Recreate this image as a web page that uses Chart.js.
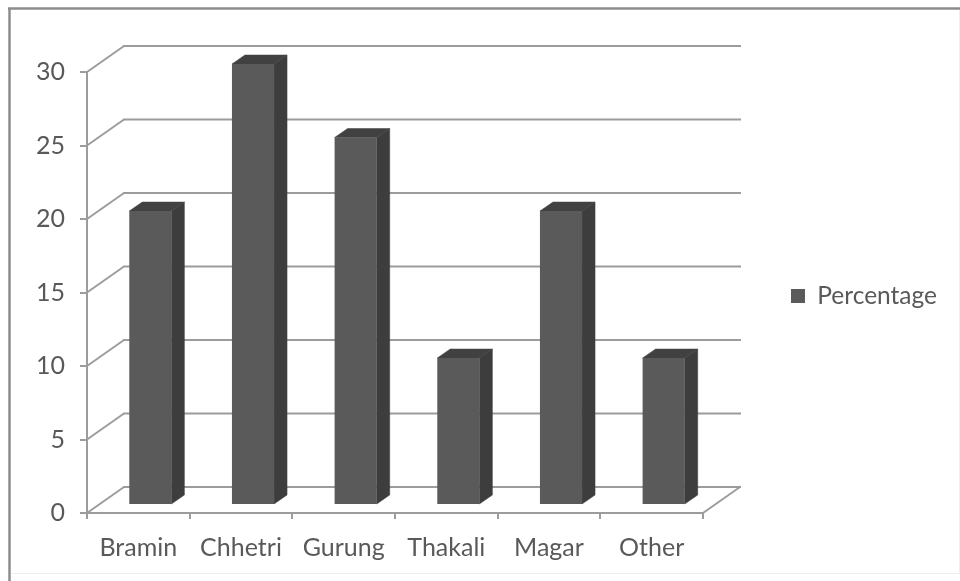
<!DOCTYPE html>
<html>
<head>
<meta charset="utf-8">
<style>
  html, body { margin: 0; padding: 0; background: #ffffff; }
  #wrap { position: absolute; left: 0; top: 0; width: 960px; height: 581px; }
</style>
<script src="https://cdn.jsdelivr.net/npm/chart.js@4"></script>
</head>
<body>
<div id="wrap"><canvas id="chart" width="960" height="581"></canvas></div>
<script>
const categories = ['Bramin', 'Chhetri', 'Gurung', 'Thakali', 'Magar', 'Other'];
const percentages = [20, 30, 25, 10, 20, 10];
const seriesName = 'Percentage';

const FRONT = '#5a5a5a';
const SIDE = '#3d3d3d';
const TOP_FACE = '#414141';
const AXIS = '#9c9c9c';
const TEXT = '#595959';
const FONT = 'Lato, "Open Sans", sans-serif';

// Perspective offsets of the pseudo-3D box and the columns inside it.
const wall = { dx: 37, dy: -26 };
const barShift = { dx: 12, dy: -8 };
const barDepth = { dx: 13, dy: -9 };

function line(ctx, x1, y1, x2, y2) {
  ctx.beginPath();
  ctx.moveTo(x1, y1);
  ctx.lineTo(x2, y2);
  ctx.stroke();
}

function poly(ctx, pts, fill) {
  ctx.fillStyle = fill;
  ctx.strokeStyle = fill;
  ctx.lineWidth = 0.5;
  ctx.beginPath();
  pts.forEach((p, i) => (i ? ctx.lineTo(p[0], p[1]) : ctx.moveTo(p[0], p[1])));
  ctx.closePath();
  ctx.fill();
  ctx.stroke();
}

const box3d = {
  id: 'box3d',
  afterLayout(chart) {
    // The legend sits beside the plot without taking space from it.
    const lg = chart.legend;
    const w = lg.width, h = lg.height;
    lg.left = 791; lg.right = lg.left + w;
    lg.top = 296 - h / 2; lg.bottom = lg.top + h;
  },
  beforeDraw(chart) {
    const ctx = chart.ctx;
    ctx.save();
    // Picture frame: strong on the top and left, faint on the other two sides.
    ctx.strokeStyle = '#eeeeee';
    ctx.lineWidth = 1;
    line(ctx, 959.5, 8, 959.5, 574);
    line(ctx, 10, 573.5, 960, 573.5);
    ctx.strokeStyle = '#8c8c8c';
    ctx.lineWidth = 2.5;
    line(ctx, 9.5, 8, 9.5, 581);
    line(ctx, 8, 8.5, 960, 8.5);
    ctx.restore();
  },
  beforeDatasetsDraw(chart) {
    const { ctx, scales: { x, y } } = chart;
    const left = x.left, right = x.right;
    ctx.save();
    ctx.strokeStyle = AXIS;
    ctx.lineWidth = 2;
    // Side wall diagonals and back wall lines at each value tick.
    y.ticks.forEach(t => {
      const py = y.getPixelForValue(t.value);
      line(ctx, left, py, left + wall.dx, py + wall.dy);
      line(ctx, left + wall.dx - 1, py + wall.dy, right + wall.dx + 1, py + wall.dy);
    });
    // Right edge of the floor.
    const base = y.getPixelForValue(0);
    line(ctx, right, base, right + wall.dx, base + wall.dy);
    ctx.restore();

    // Side and top faces of the columns, then shift the front faces with them.
    ctx.save();
    ctx.translate(barShift.dx, barShift.dy);
    chart.getDatasetMeta(0).data.forEach(bar => {
      const p = bar.getProps(['x', 'y', 'base', 'width'], true);
      const l = p.x - p.width / 2, r = p.x + p.width / 2;
      const d = barDepth;
      poly(ctx, [[r, p.y], [r + d.dx, p.y + d.dy], [r + d.dx, p.base + d.dy], [r, p.base]], SIDE);
      poly(ctx, [[l, p.y], [l + d.dx, p.y + d.dy], [r + d.dx, p.y + d.dy], [r, p.y]], TOP_FACE);
    });
  },
  afterDatasetsDraw(chart) {
    chart.ctx.restore();
  }
};

new Chart(document.getElementById('chart'), {
  type: 'bar',
  data: {
    labels: categories,
    datasets: [{
      label: seriesName,
      data: percentages,
      backgroundColor: FRONT,
      borderWidth: 0,
      categoryPercentage: 1,
      barPercentage: 0.41,
      clip: false
    }]
  },
  plugins: [box3d],
  options: {
    responsive: false,
    animation: false,
    layout: { padding: { top: 72, right: 257, left: 0, bottom: 0 } },
    plugins: {
      tooltip: { enabled: false },
      legend: {
        position: 'chartArea',
        labels: {
          boxWidth: 14,
          boxHeight: 14,
          padding: 0,
          color: TEXT,
          font: { family: FONT, size: 24.5 }
        }
      }
    },
    scales: {
      x: {
        grid: { display: true, drawOnChartArea: false, color: AXIS, lineWidth: 2, tickLength: 6, offset: true },
        border: { color: AXIS, width: 2 },
        ticks: { color: TEXT, font: { family: FONT, size: 25 }, padding: 14, maxRotation: 0, autoSkip: false },
        afterFit(s) { s.height = 68; }
      },
      y: {
        min: 0,
        max: 30,
        ticks: { stepSize: 5, color: TEXT, font: { family: FONT, size: 25 }, padding: 15 },
        grid: { display: true, drawOnChartArea: false, color: AXIS, lineWidth: 2, tickLength: 7 },
        border: { color: AXIS, width: 2 },
        afterFit(s) { s.width = 87; }
      }
    }
  }
});
</script>
</body>
</html>
